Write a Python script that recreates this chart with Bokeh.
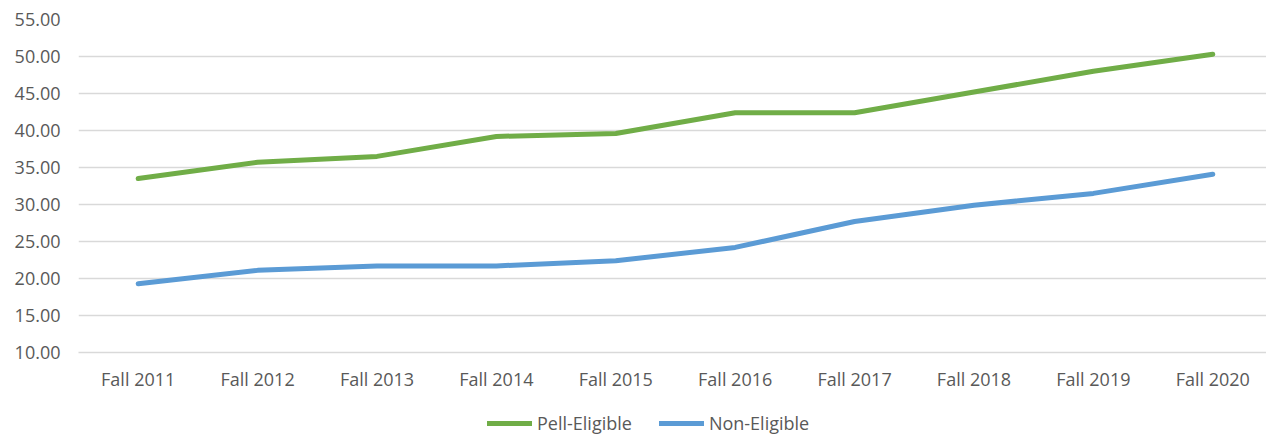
from bokeh.plotting import figure
from bokeh.layouts import column
from bokeh.models import Range1d, FixedTicker, PrintfTickFormatter, Legend, LegendItem
from bokeh.embed import file_html
from bokeh.resources import INLINE

categories = ["Fall 2011", "Fall 2012", "Fall 2013", "Fall 2014", "Fall 2015",
              "Fall 2016", "Fall 2017", "Fall 2018", "Fall 2019", "Fall 2020"]
pell_eligible = [33.5, 35.7, 36.5, 39.2, 39.6, 42.4, 42.4, 45.2, 48.0, 50.3]
non_eligible = [19.3, 21.1, 21.7, 21.7, 22.4, 24.2, 27.7, 29.9, 31.5, 34.1]
y_ticks = [10, 15, 20, 25, 30, 35, 40, 45, 50, 55]
series_names = ["Pell-Eligible", "Non-Eligible"]

FONT = "Open Sans"
TXT = "#595959"
GRID = "#D9D9D9"
GREEN = "#70AD47"
BLUE = "#5B9BD5"

x = list(range(len(categories)))

p = figure(width=1266, height=400, output_backend="svg", toolbar_location=None,
           x_range=Range1d(-0.5, 9.45), y_range=Range1d(10, 55),
           min_border_left=78, min_border_top=19, min_border_right=0, min_border_bottom=48)
p.outline_line_color = None
p.background_fill_color = "white"
p.border_fill_color = "white"

p.line(x, pell_eligible, line_color=GREEN, line_width=5, line_cap="round", line_join="round")
p.line(x, non_eligible, line_color=BLUE, line_width=5, line_cap="round", line_join="round")

p.xgrid.grid_line_color = None
p.ygrid.grid_line_color = GRID
p.ygrid.grid_line_width = 1.3

p.yaxis.ticker = FixedTicker(ticks=y_ticks)
p.yaxis.formatter = PrintfTickFormatter(format="%.2f")
p.yaxis.axis_line_color = None
p.yaxis.major_tick_line_color = None
p.yaxis.minor_tick_line_color = None
p.yaxis.major_label_standoff = 12

p.xaxis.ticker = FixedTicker(ticks=x)
p.xaxis.major_label_overrides = {i: c for i, c in enumerate(categories)}
p.xaxis.axis_line_color = GRID
p.xaxis.axis_line_width = 1.3
p.xaxis.major_tick_line_color = None
p.xaxis.minor_tick_line_color = None
p.xaxis.major_label_standoff = 8

for ax in (p.xaxis[0], p.yaxis[0]):
    ax.major_label_text_font = FONT
    ax.major_label_text_font_size = "18px"
    ax.major_label_text_color = TXT

# legend strip below the chart (its series lie outside its view; only the legend shows)
lf = figure(width=1266, height=35, output_backend="svg", toolbar_location=None,
            x_range=Range1d(-0.5, 9.45), y_range=Range1d(0, 1),
            min_border_left=78, min_border_right=0, min_border_top=0, min_border_bottom=0,
            x_axis_type=None, y_axis_type=None)
lf.outline_line_color = None
lf.xgrid.grid_line_color = None
lf.ygrid.grid_line_color = None
g_leg = lf.line(x, pell_eligible, line_color=GREEN, line_width=5, line_cap="round")
b_leg = lf.line(x, non_eligible, line_color=BLUE, line_width=5, line_cap="round")

legend = Legend(items=[LegendItem(label=series_names[0], renderers=[g_leg]),
                       LegendItem(label=series_names[1], renderers=[b_leg])],
                location=(409, 0), orientation="horizontal",
                padding=0, margin=0, spacing=27, glyph_width=45, glyph_height=20,
                label_standoff=5, label_text_font=FONT, label_text_font_size="18px",
                label_text_color=TXT, border_line_color=None,
                background_fill_alpha=0)
lf.add_layout(legend, "center")

layout = column(p, lf, spacing=0)
open("out.html", "w").write(file_html(layout, INLINE))
